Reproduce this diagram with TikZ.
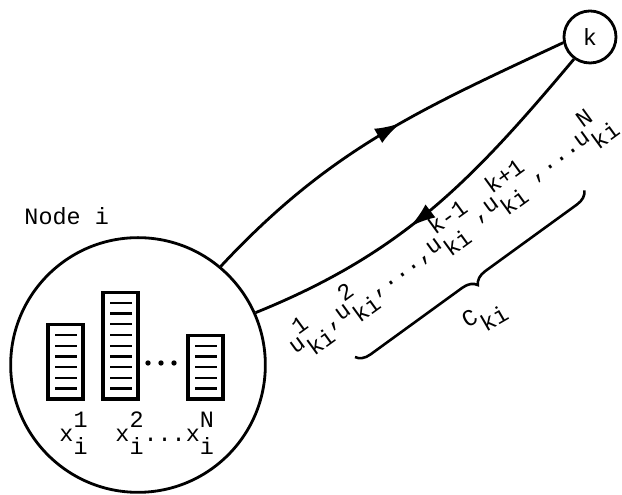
\documentclass[tikz,border=0pt]{standalone}
\usepackage{fontspec}
\setmainfont{Liberation Mono}
\usetikzlibrary{arrows.meta, decorations.markings, decorations.pathreplacing}

% typewriter style super- and subscript, full size
\newcommand{\supsub}[3]{#1\ooalign{\raisebox{0.6em}{#2}\cr\raisebox{-0.55em}{#3}\cr}}

% one data set: a box with n ruled lines
\newcommand{\filestack}[2]{%
  \draw[boxline] (#1,96) rectangle ++(35,{21+(#2-1)*10.7});
  \foreach \k in {1,...,#2}
    \draw[ruleline] ({#1+7},{106.5+(\k-1)*10.7}) -- ++(22,0);
}

\tikzset{
  bignode/.style={circle, draw, line width=1.2pt, minimum size=3.82cm, inner sep=0pt},
  smallnode/.style={circle, draw, line width=1.2pt, minimum size=0.78cm, inner sep=0pt},
  flow/.style={line width=1.2pt, postaction={decorate},
    decoration={markings, mark=at position #1 with {\arrow{Latex[length=11pt,width=7pt]}}}},
  boxline/.style={line width=1.3pt},
  ruleline/.style={line width=1pt},
  label text/.style={inner sep=0pt, anchor=base west},
}

\begin{document}
\begin{tikzpicture}[x=0.015cm, y=0.015cm]
\useasboundingbox (0,0) rectangle (622,495);

% Node i and node k
\node[bignode] (nodei) at (138,130) {};
\node[smallnode] (nodek) at (590,458) {k};
\node[label text] (nodelabel) at (24,270) {Node i};

% Messages between the two nodes
\draw[flow=0.56] (nodei.50) to[out=47, in=205] (nodek.192);
\draw[flow=0.57] (nodek.234) to[out=230, in=22] (nodei.24);

% Data sets held at node i
\filestack{48}{6}
\filestack{103}{9}
\filestack{188}{5}
\foreach \dx in {148,161,174}
  \fill (\dx,132) circle (0.04cm);

\node[label text] (xone) at (59,53) {\supsub{x}{1}{i}};
\node[label text] (xrest) at (115,53) {\supsub{x}{2}{i}...\supsub{x}{N}{i}};

% Values sent from node i to node k
\node[label text, rotate=36] (ulist) at (295,140)
  {\supsub{u}{1}{ki},\supsub{u}{2}{ki},...,\supsub{u}{k-1}{ki},\supsub{u}{k+1}{ki},...\supsub{u}{N}{ki}};

% The set C_ki
\coordinate (bracelow) at (355,138);
\coordinate (bracehigh) at (585,305);
\draw[line width=1.1pt, decorate, decoration={brace, mirror, amplitude=6pt}] (bracelow) -- (bracehigh);
\node[rotate=30] (cki) at (485,178) {\supsub{C}{}{ki}};

\end{tikzpicture}
\end{document}
